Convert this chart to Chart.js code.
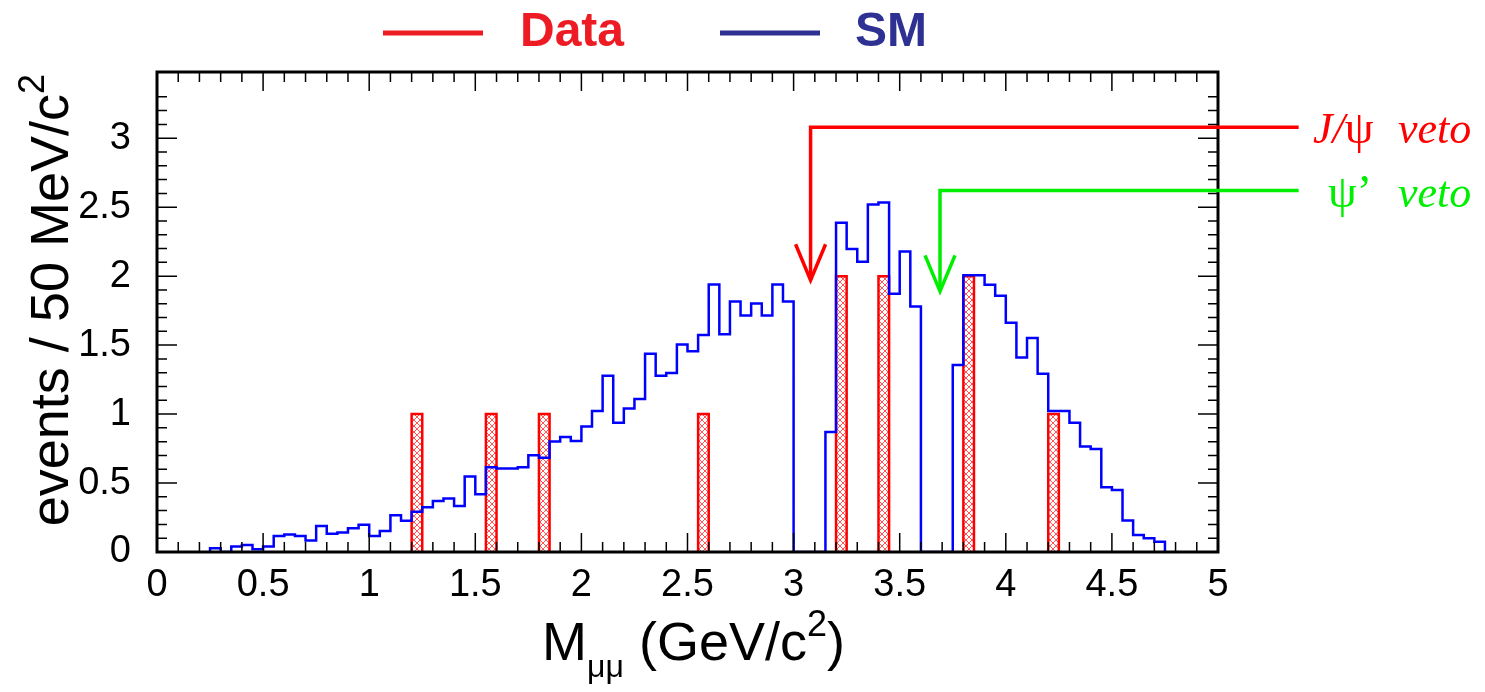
<!DOCTYPE html>
<html lang="en">
<head>
<meta charset="UTF-8">
<script src="https://cdn.jsdelivr.net/npm/chart.js"></script>
<title>Mmumu spectrum</title>
<style>
  html, body { margin: 0; padding: 0; background: #fff; }
  canvas { display: block; }
</style>
</head>
<body>
<canvas id="chart" width="1485" height="692"></canvas>
<script>
// SM expectation, 50 MeV bins starting at 0.25 GeV/c^2
const smFirstEdge = 0.25;
const binWidth = 0.05;
const smCounts = [
  0.027, 0, 0.04, 0.05, 0.02, 0.04, 0.116, 0.126, 0.116, 0.084,
  0.189, 0.133, 0.142, 0.172, 0.198, 0.116, 0.152, 0.266, 0.227, 0.292,
  0.324, 0.369, 0.387, 0.334, 0.548, 0.418, 0.615, 0.606, 0.606, 0.615,
  0.701, 0.683, 0.802, 0.833, 0.804, 0.91, 1.022, 1.278, 0.937, 1.041,
  1.109, 1.438, 1.278, 1.298, 1.505, 1.456, 1.573, 1.94, 1.579, 1.817,
  1.715, 1.802, 1.715, 1.94, 1.817, 0, 0, 0, 0.87, 2.387,
  2.196, 2.104, 2.52, 2.534, 1.872, 2.179, 1.78, 0, 0, 0,
  1.355, 2.006, 2.006, 1.937, 1.858, 1.662, 1.411, 1.551, 1.293, 1.022,
  1.022, 0.937, 0.764, 0.747, 0.469, 0.45, 0.229, 0.123, 0.099, 0.074
];

// observed events (low bin edge, count)
const dataLowEdges = [1.20, 1.55, 1.80, 2.55, 3.20, 3.40, 3.80, 4.20];
const dataCounts = [1, 1, 1, 1, 2, 2, 2, 1];

// veto arrows: label parts as [italic part, upright part]
const vetoNames = [['J/', 'ψ'], ['', 'ψ’']];
const vetoX = [3.08, 3.69];
const vetoTop = [3.08, 2.62];
const vetoTip = [1.97, 1.89];
const vetoLineEnd = 5.38;

const xMin = 0, xMax = 5;
const yMin = 0, yMax = 3.48;

const FONT = '"Liberation Sans", Arial, Helvetica, sans-serif';
const SERIF = '"Liberation Serif", "Times New Roman", serif';

function hatch(color) {
  const c = document.createElement('canvas');
  c.width = 6; c.height = 6;
  const g = c.getContext('2d');
  g.strokeStyle = color;
  g.lineWidth = 0.8;
  g.beginPath();
  g.moveTo(0, 0); g.lineTo(6, 6);
  g.moveTo(6, 0); g.lineTo(0, 6);
  g.stroke();
  return g.createPattern(c, 'repeat');
}

const smPoints = [{x: smFirstEdge, y: 0}];
smCounts.forEach((v, i) => smPoints.push({x: smFirstEdge + i * binWidth, y: v}));
smPoints.push({x: smFirstEdge + smCounts.length * binWidth, y: 0});

const dataPoints = [];
dataLowEdges.forEach((lo, i) => {
  const hi = lo + binWidth;
  const n = dataCounts[i];
  dataPoints.push({x: lo, y: 0}, {x: lo, y: n}, {x: hi, y: n}, {x: hi, y: 0}, {x: hi, y: null});
});

const onTenth = v => Math.abs(v * 10 - Math.round(v * 10)) < 1e-6;
const onHalf = v => Math.abs(v * 2 - Math.round(v * 2)) < 1e-6;

// mixed-font text runs (sub/superscripts, italic parts)
function drawRuns(ctx, runs, x, y, align) {
  let total = 0;
  runs.forEach(r => {
    ctx.font = r.font;
    r.w = ctx.measureText(r.t).width;
    total += r.w;
  });
  let cx = align === 'center' ? x - total / 2 : (align === 'right' ? x - total : x);
  runs.forEach(r => {
    ctx.font = r.font;
    ctx.fillText(r.t, cx, y + (r.dy || 0));
    cx += r.w;
  });
}
const sans = s => s + 'px ' + FONT;

const rootFrame = {
  id: 'rootFrame',
  afterDatasetsDraw(chart) {
    const {ctx, chartArea: a, scales: {x, y}} = chart;
    ctx.save();
    ctx.strokeStyle = '#000';
    ctx.lineWidth = 1.5;
    ctx.beginPath();
    x.ticks.forEach(t => {
      if (!onTenth(t.value)) return;
      const px = x.getPixelForValue(t.value);
      const len = onHalf(t.value) ? 19 : 10;
      ctx.moveTo(px, a.bottom); ctx.lineTo(px, a.bottom - len);
      ctx.moveTo(px, a.top); ctx.lineTo(px, a.top + len);
    });
    y.ticks.forEach(t => {
      if (!onTenth(t.value)) return;
      const py = y.getPixelForValue(t.value);
      const len = onHalf(t.value) ? 20 : 10;
      ctx.moveTo(a.left, py); ctx.lineTo(a.left + len, py);
      ctx.moveTo(a.right, py); ctx.lineTo(a.right - len, py);
    });
    ctx.stroke();
    ctx.lineWidth = 3;
    ctx.strokeRect(a.left, a.top, a.right - a.left, a.bottom - a.top);

    // veto arrows
    const o = chart.options.plugins.rootFrame;
    ctx.lineWidth = 3.5;
    ctx.lineJoin = 'miter';
    vetoX.forEach((vx, i) => {
      const px = x.getPixelForValue(vx);
      const top = y.getPixelForValue(vetoTop[i]);
      const tip = y.getPixelForValue(vetoTip[i]);
      const end = x.getPixelForValue(vetoLineEnd);
      ctx.strokeStyle = o.vetoColors[i];
      ctx.beginPath();
      ctx.moveTo(end, top); ctx.lineTo(px, top); ctx.lineTo(px, tip);
      ctx.stroke();
      ctx.beginPath();
      ctx.moveTo(px - 15, tip - 36); ctx.lineTo(px, tip); ctx.lineTo(px + 15, tip - 36);
      ctx.stroke();
      ctx.fillStyle = o.vetoColors[i];
      ctx.textAlign = 'left';
      ctx.textBaseline = 'alphabetic';
      drawRuns(ctx, [
        {t: vetoNames[i][0], font: 'italic 44px ' + SERIF},
        {t: vetoNames[i][1], font: '46px ' + SERIF}
      ], o.vetoLabelX[i], top + 16, 'left');
      ctx.font = 'italic 44px ' + SERIF;
      ctx.fillText('veto', o.vetoWordX, top + 16);
    });
    ctx.restore();
  },
  afterDraw(chart) {
    const {ctx, chartArea: a} = chart;
    const o = chart.options.plugins.rootFrame;
    ctx.save();
    ctx.fillStyle = '#000';
    ctx.textAlign = 'left';
    ctx.textBaseline = 'alphabetic';
    // x title
    drawRuns(ctx, [
      {t: 'M', font: sans(54)},
      {t: 'μμ', font: sans(32), dy: 17},
      {t: ' (GeV/c', font: sans(54)},
      {t: '2', font: sans(36), dy: -24},
      {t: ')', font: sans(54)}
    ], (a.left + a.right) / 2 + 6, 660, 'center');
    // y title
    ctx.translate(68, a.top + 2);
    ctx.rotate(-Math.PI / 2);
    drawRuns(ctx, [
      {t: 'events / 50 MeV/c', font: sans(54)},
      {t: '2', font: sans(36), dy: -24}
    ], 0, 0, 'right');
    ctx.setTransform(1, 0, 0, 1, 0, 0);

    // legend
    chart.data.datasets.forEach((ds, i) => {
      ctx.strokeStyle = o.legendColors[i];
      ctx.lineWidth = 5;
      ctx.beginPath();
      ctx.moveTo(o.legendLineX[i], 33);
      ctx.lineTo(o.legendLineX[i] + 100, 33);
      ctx.stroke();
      ctx.fillStyle = o.legendColors[i];
      ctx.font = 'bold 48px ' + FONT;
      ctx.fillText(ds.label, o.legendTextX[i], 46);
    });
    ctx.restore();
  }
};

const ctx = document.getElementById('chart').getContext('2d');
new Chart(ctx, {
  type: 'line',
  data: {
    datasets: [
      {
        label: 'Data',
        data: dataPoints,
        borderColor: '#ff0000',
        borderWidth: 2.5,
        backgroundColor: hatch('#ff2a2a'),
        fill: 'origin',
        pointRadius: 0,
        tension: 0,
        spanGaps: false,
        order: 1
      },
      {
        label: 'SM',
        data: smPoints,
        borderColor: '#0000ff',
        borderWidth: 2.5,
        stepped: 'before',
        fill: false,
        pointRadius: 0,
        order: 0
      }
    ]
  },
  options: {
    responsive: false,
    animation: false,
    devicePixelRatio: 1,
    layout: { padding: { left: 0, right: 267, top: 72, bottom: 0 } },
    plugins: {
      legend: { display: false },
      tooltip: { enabled: false },
      rootFrame: {
        vetoColors: ['#ff0000', '#00ee00'],
        vetoLabelX: [1313, 1328],
        vetoWordX: 1398,
        legendColors: ['#ed1c24', '#2e3192'],
        legendLineX: [383, 720],
        legendTextX: [520, 855]
      }
    },
    scales: {
      x: {
        type: 'linear',
        min: xMin, max: xMax,
        grid: { display: false },
        border: { display: false },
        afterFit: s => { s.height = 140; },
        ticks: {
          stepSize: 0.1,
          autoSkip: false,
          maxRotation: 0,
          padding: 3,
          color: '#000',
          font: { family: FONT, size: 38 },
          callback: v => onHalf(v) ? String(Math.round(v * 10) / 10) : ''
        }
      },
      y: {
        type: 'linear',
        min: yMin, max: yMax,
        grid: { display: false },
        border: { display: false },
        afterFit: s => { s.width = 157; },
        ticks: {
          stepSize: 0.1,
          autoSkip: false,
          padding: 18,
          color: '#000',
          font: { family: FONT, size: 38 },
          callback: v => (onHalf(v) && v <= 3.01) ? String(Math.round(v * 10) / 10) : ''
        }
      }
    }
  },
  plugins: [rootFrame]
});
</script>
</body>
</html>
